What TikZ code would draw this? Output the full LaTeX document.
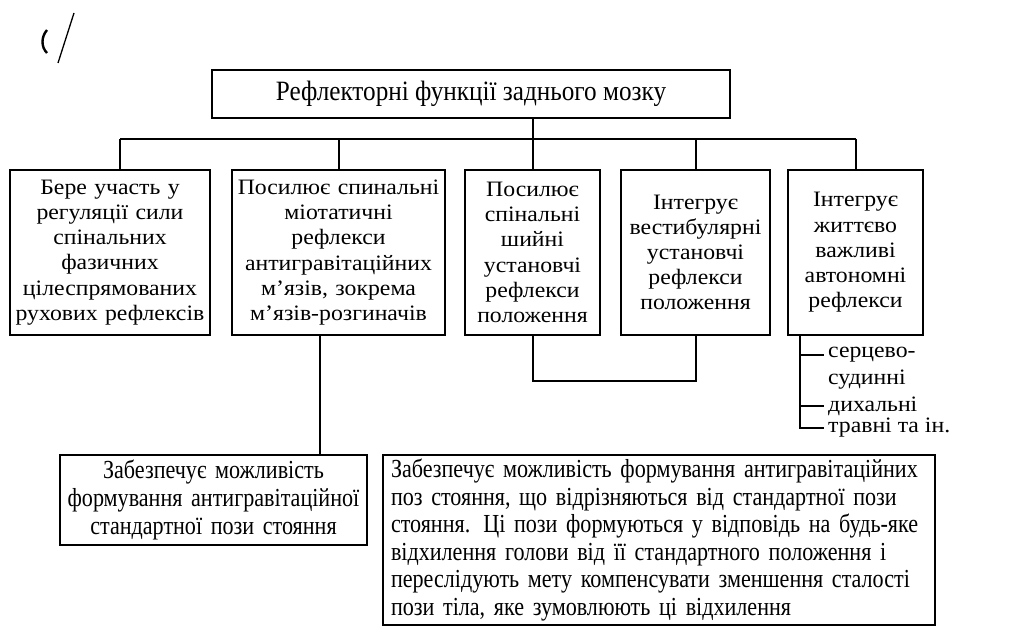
\documentclass[tikz,border=0pt]{standalone}
\usepackage{fontspec}
\setmainfont{Liberation Serif}
\newfontfamily\narrowserif[FakeStretch=0.85]{Liberation Serif}
\newfontfamily\titleserif[FakeStretch=0.9]{Liberation Serif}
\newfontfamily\wideserif[FakeStretch=1.08]{Liberation Serif}
\begin{document}
\begin{tikzpicture}[x=1pt,y=-1pt,
  line/.style={line width=2pt},
  box/.style={draw, line width=2pt, rectangle, inner sep=0pt, align=center,
    font=\wideserif\fontsize{22}{25.2}\selectfont},
  lowbox/.style={draw, line width=2pt, rectangle, inner sep=0pt,
    font=\narrowserif\fontsize{26}{27.6}\selectfont},
  item/.style={anchor=west, inner sep=0pt, font=\wideserif\fontsize{22}{24}\selectfont}
]
\useasboundingbox (0,0) rectangle (1017,642);
\fill[white] (0,0) rectangle (1017,642);

% handwritten mark
\draw[line width=2.4pt] (47,30) .. controls (41,37) and (41,47) .. (47,53);
\draw[line width=1.3pt] (58,63) -- (74,13);

\node[draw, line width=2pt, inner sep=0pt, minimum width=518pt, minimum height=48pt,
  font=\titleserif\fontsize{28}{30}\selectfont] (top) at (471,94)
  {Рефлекторні функції заднього мозку};

\node[box, minimum width=200pt, minimum height=165pt, text width=198pt] (b1) at (110,252.5)
  {Бере участь у\\регуляції сили\\спінальних\\фазичних\\цілеспрямованих\\рухових рефлексів};
\node[box, minimum width=213pt, minimum height=165pt, text width=211pt] (b2) at (338.5,252.5)
  {Посилює спинальні\\міотатичні\\рефлекси\\антигравітаційних\\м’язів, зокрема\\м’язів-розгиначів};
\node[box, minimum width=135pt, minimum height=165pt, text width=133pt] (b3) at (532.5,252.5)
  {Посилює\\спінальні\\шийні\\установчі\\рефлекси\\положення};
\node[box, minimum width=149pt, minimum height=165pt, text width=147pt] (b4) at (695.5,252.5)
  {Інтегрує\\вестибулярні\\установчі\\рефлекси\\положення};
\node[box, minimum width=135pt, minimum height=165pt, text width=133pt] (b5) at (855.5,252.5)
  {Інтегрує\\життєво\\важливі\\автономні\\рефлекси};

\node[lowbox, align=center, minimum width=307pt, minimum height=90pt, text width=305pt] (s1) at (213.5,500)
  {Забезпечує можливість\\формування антигравітаційної\\стандартної пози стояння};
\node[lowbox, align=left, minimum width=552pt, minimum height=170pt, text width=536pt] (s2) at (659,540)
  {Забезпечує можливість формування антигравітаційних\\
   поз стояння, що відрізняються від стандартної пози\\
   стояння. Ці пози формуються у відповідь на будь-яке\\
   відхилення голови від її стандартного положення і\\
   переслідують мету компенсувати зменшення сталості\\
   пози тіла, яке зумовлюють ці відхилення};

% tree from the top box
\coordinate (busL) at (120,139);
\coordinate (busR) at (b5.north |- busL);
\draw[line] (top.south -| b3.north) -- (b3.north);
\draw[line] (busL) -- (busR);
\draw[line] (busL) -- (busL |- b1.north);
\draw[line] (b2.north |- busL) -- (b2.north);
\draw[line] (b4.north |- busL) -- (b4.north);
\draw[line] (busR) -- (b5.north);

% b2 to s1
\coordinate (c2) at (320,0);
\draw[line] (c2 |- b2.south) -- (c2 |- s1.north);

% bracket under b3 and b4
\draw[line] (b3.south) -- ++(0,45) -| (b4.south);

% list under b5
\coordinate (lx) at (800,0);
\node[item] (l1) at (828,355) {серцево-};
\node[item] (l2) at (828,380) {судинні};
\node[item] (l3) at (828,406) {дихальні};
\node[item] (l4) at (828,428) {травні та ін.};
\draw[line] (lx |- b5.south) -- (lx |- l4.west) -- ([xshift=-4pt]l4.west);
\draw[line] (lx |- l1.west) -- ([xshift=-4pt]l1.west);
\draw[line] (lx |- l3.west) -- ([xshift=-4pt]l3.west);
\end{tikzpicture}
\end{document}
